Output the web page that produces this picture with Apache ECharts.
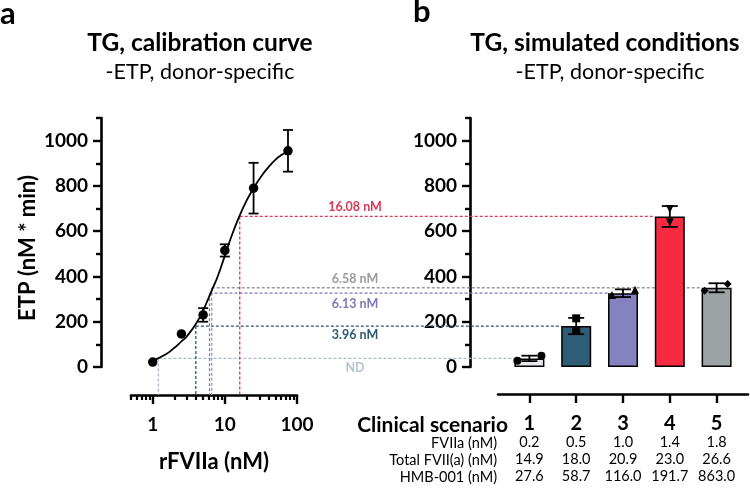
<!DOCTYPE html>
<html><head><meta charset="utf-8">
<script src="https://cdn.jsdelivr.net/npm/echarts@6/dist/echarts.min.js"></script>
<style>html,body{margin:0;padding:0;background:#fff}#c{width:750px;height:491px}</style>
</head><body><div id="c"></div>
<script>
// ---------- data ----------
const calConc = [1, 2.5, 5, 10, 25, 75];
const calEtp = [22, 146, 230, 515, 790, 955];
const calSd = [0, 0, 30, 27, 112, 92];
const curveConc = [1, 1.5, 2, 2.5, 3, 4, 5, 6, 7, 8, 10, 12.5, 16, 20, 25, 32, 40, 50, 60, 75];
const curveEtp = [28, 55, 85, 113, 137, 192, 250, 308, 358, 402, 492, 582, 668, 735, 790, 843, 882, 915, 935, 952];
const scenarios = ['1', '2', '3', '4', '5'];
const etpMean = [38, 181, 326, 665, 350];
const etpErr = [12, 36, 17, 46, 20];
const rep1 = [28, 215, 318, 698, 337];
const rep2 = [50, 162, 341, 640, 367];
const fviia = ['0.2', '0.5', '1.0', '1.4', '1.8'];
const totalFvii = ['14.9', '18.0', '20.9', '23.0', '26.6'];
const hmb = ['27.6', '58.7', '116.0', '191.7', '863.0'];
const guideConc = [1.2, 3.96, 6.13, 6.58, 16.08];
const guideScenario = [0, 1, 2, 4, 3];
const guideLabels = ['ND', '3.96 nM', '6.13 nM', '6.58 nM', '16.08 nM'];
const yTicks = [0, 200, 400, 600, 800, 1000];
const yMinorTicks = [100, 300, 500, 700, 900, 1100];
const xMajorTicks = [1, 10, 100];
const xMinorTicks = [0.5, 0.6, 0.7, 0.8, 0.9, 2, 3, 4, 5, 6, 7, 8, 9, 20, 30, 40, 50, 60, 70, 80, 90];

// ---------- styles ----------
const FONT = 'Lato';
const barColors = ['#e6e9ec', '#2e5e75', '#8682c0', '#f62a40', '#9da3a5'];
const guideColors = ['#a9bccb', '#2f5870', '#7c79b6', '#9b9b9b', '#d63a55'];
const guideTextColors = ['#b5c4d0', '#2f5870', '#7c79b6', '#9b9b9b', '#d63a55'];
const guideLabelDy = [10, 9, 11, -9, -9];
const repSymbols = ['circle', 'rect', 'triangle', 'triangle', 'diamond'];
const repRotate = [0, 0, 0, 180, 0];
const rep1Offset = [-12, 0, -11, 0, -12];
const rep2Offset = [12, 0, 12, 0, 11];
const TOP = 118, H = 249;
const XOFF_L = 28, XOFF_R = 27;
const BAR_W = 30;
const plain = v => String(v);

const chart = echarts.init(document.getElementById('c'), null, {renderer: 'canvas'});

function yAxisMajor(grid, offset, showLabel) {
  return {
    type: 'value', gridIndex: grid, position: 'left', offset: offset, min: 0, max: 1100,
    axisLine: {show: true, lineStyle: {color: '#000', width: 2.6}},
    axisTick: {show: true, customValues: yTicks, length: 8, lineStyle: {color: '#000', width: 2.4}},
    axisLabel: {show: showLabel, customValues: yTicks, formatter: plain, margin: 13, color: '#000', fontFamily: FONT, fontWeight: 'bold', fontSize: 19},
    splitLine: {show: false}
  };
}
function yAxisMinor(grid, offset) {
  return {
    type: 'value', gridIndex: grid, position: 'left', offset: offset, min: 0, max: 1100,
    axisLine: {show: false},
    axisTick: {show: true, customValues: yMinorTicks, length: 5, lineStyle: {color: '#000', width: 2.4}},
    axisLabel: {show: false}, splitLine: {show: false}
  };
}
function rowAxis(data, offset) {
  return {
    type: 'category', gridIndex: 1, position: 'bottom', offset: offset, data: data,
    axisLine: {show: false, onZero: false}, axisTick: {show: false},
    axisLabel: {interval: 0, hideOverlap: false, margin: 0, color: '#000', fontFamily: FONT, fontSize: 14.5}
  };
}

const option = {
  animation: false,
  backgroundColor: '#fff',
  grid: [
    {left: 131, width: 166, top: TOP, height: H},
    {left: 506, width: 234, top: TOP, height: H},
    {left: 498, width: 250, top: TOP, height: H}
  ],
  xAxis: [
    { // 0 left log axis (major)
      type: 'log', logBase: 10, gridIndex: 0, position: 'bottom', offset: XOFF_L, min: 0.5, max: 100,
      axisLine: {show: true, onZero: false, lineStyle: {color: '#000', width: 2.6}},
      axisTick: {show: true, customValues: xMajorTicks, length: 9, lineStyle: {color: '#000', width: 2.4}},
      axisLabel: {customValues: xMajorTicks, formatter: plain, margin: 20, color: '#000', fontFamily: FONT, fontWeight: 'bold', fontSize: 19},
      splitLine: {show: false}
    },
    { // 1 right category axis
      type: 'category', gridIndex: 1, position: 'bottom', offset: XOFF_R, data: scenarios,
      axisLine: {show: false, onZero: false},
      axisTick: {show: true, alignWithLabel: true, length: 9, lineStyle: {color: '#000', width: 2.4}},
      axisLabel: {interval: 0, margin: 20, color: '#000', fontFamily: FONT, fontWeight: 'bold', fontSize: 20}
    },
    { // 2 left log axis (minor ticks)
      type: 'log', logBase: 10, gridIndex: 0, position: 'bottom', offset: XOFF_L, min: 0.5, max: 100,
      axisLine: {show: false, onZero: false},
      axisTick: {show: true, customValues: xMinorTicks, length: 5, lineStyle: {color: '#000', width: 2.2}},
      axisLabel: {show: false}, splitLine: {show: false}
    },
    rowAxis(fviia, 68),
    rowAxis(totalFvii, 85),
    rowAxis(hmb, 102),
    { // 6 long baseline for right panel
      type: 'value', gridIndex: 2, position: 'bottom', offset: XOFF_R, min: 0, max: 1,
      axisLine: {show: true, onZero: false, lineStyle: {color: '#000', width: 2.6}},
      axisTick: {show: false}, axisLabel: {show: false}, splitLine: {show: false}
    }
  ],
  yAxis: [
    yAxisMajor(0, 30, true),
    yAxisMajor(1, 36, true),
    yAxisMinor(0, 30),
    yAxisMinor(1, 36),
    {type: 'value', gridIndex: 2, show: false, min: 0, max: 1100}
  ],
  graphic: [
    {type: 'text', x: 0, y: 14, style: {text: 'a', font: 'bold 31px ' + FONT, fill: '#000', textAlign: 'left', textVerticalAlign: 'middle'}},
    {type: 'text', x: 413, y: 12, style: {text: 'b', font: 'bold 31px ' + FONT, fill: '#000', textAlign: 'left', textVerticalAlign: 'middle'}},
    {type: 'text', x: 200, y: 43, style: {text: 'TG, calibration curve', font: 'bold 24.5px ' + FONT, fill: '#000', textAlign: 'center', textVerticalAlign: 'middle'}},
    {type: 'text', x: 200, y: 72, style: {text: '-ETP, donor-specific', font: '21.5px ' + FONT, fill: '#000', textAlign: 'center', textVerticalAlign: 'middle'}},
    {type: 'text', x: 605, y: 43, style: {text: 'TG, simulated conditions', font: 'bold 24.5px ' + FONT, fill: '#000', textAlign: 'center', textVerticalAlign: 'middle'}},
    {type: 'text', x: 610, y: 72, style: {text: '-ETP, donor-specific', font: '21.5px ' + FONT, fill: '#000', textAlign: 'center', textVerticalAlign: 'middle'}},
    {type: 'text', x: 28, y: 248, rotation: Math.PI / 2, style: {text: 'ETP (nM * min)', font: 'bold 22px ' + FONT, fill: '#000', textAlign: 'center', textVerticalAlign: 'middle'}},
    {type: 'text', x: 214, y: 462, style: {text: 'rFVIIa (nM)', font: 'bold 22px ' + FONT, fill: '#000', textAlign: 'center', textVerticalAlign: 'middle'}},
    {type: 'text', x: 508, y: 425, style: {text: 'Clinical scenario', font: 'bold 21px ' + FONT, fill: '#000', textAlign: 'right', textVerticalAlign: 'middle'}},
    {type: 'text', x: 497, y: 443, style: {text: 'FVIIa (nM)', font: '14.5px ' + FONT, fill: '#000', textAlign: 'right', textVerticalAlign: 'middle'}},
    {type: 'text', x: 497, y: 460, style: {text: 'Total FVII(a) (nM)', font: '14.5px ' + FONT, fill: '#000', textAlign: 'right', textVerticalAlign: 'middle'}},
    {type: 'text', x: 497, y: 477, style: {text: 'HMB-001 (nM)', font: '14.5px ' + FONT, fill: '#000', textAlign: 'right', textVerticalAlign: 'middle'}}
  ],
  series: [
    {
      name: 'fit', type: 'line', xAxisIndex: 0, yAxisIndex: 0, smooth: true, showSymbol: false, z: 4,
      lineStyle: {color: '#000', width: 1.8},
      data: curveConc.map((c, i) => [c, curveEtp[i]])
    },
    {
      name: 'cal', type: 'scatter', xAxisIndex: 0, yAxisIndex: 0, symbol: 'circle', symbolSize: 9.5, z: 5,
      itemStyle: {color: '#000', opacity: 1},
      data: calConc.map((c, i) => [c, calEtp[i]])
    },
    {
      name: 'calErr', type: 'custom', xAxisIndex: 0, yAxisIndex: 0, z: 5,
      data: calConc.map((c, i) => [c, calEtp[i], calSd[i]]),
      renderItem: function (params, api) {
        const sd = api.value(2);
        if (!sd) return null;
        const top = api.coord([api.value(0), api.value(1) + sd]);
        const bot = api.coord([api.value(0), api.value(1) - sd]);
        const st = {stroke: '#000', lineWidth: 1.8};
        return {type: 'group', children: [
          {type: 'line', shape: {x1: top[0], y1: top[1], x2: bot[0], y2: bot[1]}, style: st},
          {type: 'line', shape: {x1: top[0] - 5, y1: top[1], x2: top[0] + 5, y2: top[1]}, style: st},
          {type: 'line', shape: {x1: bot[0] - 5, y1: bot[1], x2: bot[0] + 5, y2: bot[1]}, style: st}
        ]};
      }
    },
    {
      name: 'bars', type: 'bar', xAxisIndex: 1, yAxisIndex: 1, barWidth: BAR_W, z: 3,
      data: etpMean.map((v, i) => ({value: v, itemStyle: {color: barColors[i], borderColor: '#000', borderWidth: 1.5}}))
    },
    {
      name: 'barErr', type: 'custom', xAxisIndex: 1, yAxisIndex: 1, z: 6,
      data: etpMean.map((v, i) => [i, v, etpErr[i]]),
      renderItem: function (params, api) {
        const top = api.coord([api.value(0), api.value(1) + api.value(2)]);
        const bot = api.coord([api.value(0), api.value(1) - api.value(2)]);
        const st = {stroke: '#000', lineWidth: 1.8};
        return {type: 'group', children: [
          {type: 'line', shape: {x1: top[0], y1: top[1], x2: bot[0], y2: bot[1]}, style: st},
          {type: 'line', shape: {x1: top[0] - 8, y1: top[1], x2: top[0] + 8, y2: top[1]}, style: st},
          {type: 'line', shape: {x1: bot[0] - 8, y1: bot[1], x2: bot[0] + 8, y2: bot[1]}, style: st}
        ]};
      }
    },
    {
      name: 'rep1', type: 'scatter', xAxisIndex: 1, yAxisIndex: 1, z: 7, symbolSize: 8,
      itemStyle: {color: '#000', opacity: 1},
      data: rep1.map((v, i) => ({value: [i, v], symbol: repSymbols[i], symbolRotate: repRotate[i], symbolOffset: [rep1Offset[i], 0]}))
    },
    {
      name: 'rep2', type: 'scatter', xAxisIndex: 1, yAxisIndex: 1, z: 7, symbolSize: 8,
      itemStyle: {color: '#000', opacity: 1},
      data: rep2.map((v, i) => ({value: [i, v], symbol: repSymbols[i], symbolRotate: repRotate[i], symbolOffset: [rep2Offset[i], 0]}))
    }
  ]
};
chart.setOption(option);

// second pass: guide lines from curve to the matching bar (bar edges through the library's coordinate conversion)
const barLeft = scenarios.map((s, i) => chart.convertToPixel({xAxisIndex: 1, yAxisIndex: 1}, [i, 0])[0] - BAR_W / 2);
chart.setOption({
  series: [{
    id: 'guides', type: 'custom', xAxisIndex: 0, yAxisIndex: 0, z: 1, clip: false,
    data: guideConc.map((c, i) => [c, etpMean[guideScenario[i]], barLeft[guideScenario[i]]]),
    renderItem: function (params, api) {
      const i = params.dataIndex;
      const p = api.coord([api.value(0), api.value(1)]);
      const base = api.coord([api.value(0), 0])[1] + XOFF_L;
      const st = {stroke: guideColors[i], lineWidth: 1.3, lineDash: [3, 2]};
      return {type: 'group', children: [
        {type: 'line', shape: {x1: p[0], y1: p[1], x2: p[0], y2: base}, style: st},
        {type: 'line', shape: {x1: p[0], y1: p[1], x2: api.value(2), y2: p[1]}, style: st},
        {type: 'text', style: {text: guideLabels[i], x: 355, y: p[1] + guideLabelDy[i], textAlign: 'center', textVerticalAlign: 'middle', fill: guideTextColors[i], font: 'bold 12.5px ' + FONT}}
      ]};
    }
  }]
});
</script>
</body></html>
